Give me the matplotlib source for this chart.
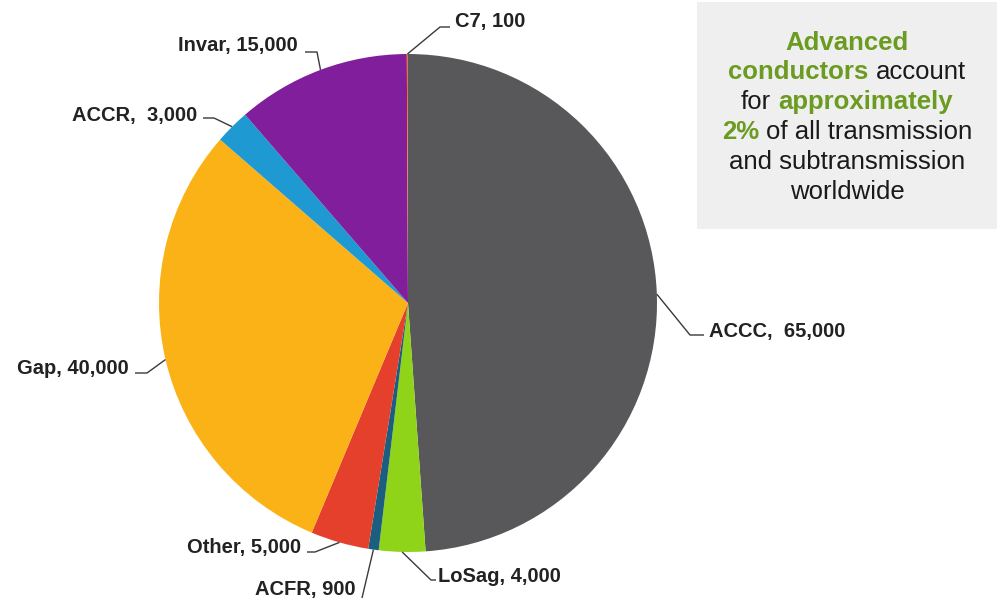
import matplotlib
matplotlib.use('Agg')
import matplotlib.pyplot as plt
import numpy as np
from matplotlib.patches import Rectangle

# ---- data ----
categories = ['ACCC', 'LoSag', 'ACFR', 'Other', 'Gap', 'ACCR', 'Invar', 'C7']
values = [65000, 4000, 900, 5000, 40000, 3000, 15000, 100]
label_sep = {'ACCC': ',  ', 'ACCR': ',  '}
colors = ['#58585A', '#8FD418', '#1B5E80', '#E5402B', '#FBB217', '#1E99D2', '#801E9C', '#F07030']

H = 608
W = 999
FONT = 'Liberation Sans'

fig = plt.figure(figsize=(W / 100, H / 100), dpi=100)
ax = fig.add_axes([0, 0, 1, 1])
cx, cy, r = 408, H - 303, 249
wedges, _ = ax.pie(values, colors=colors, startangle=90, counterclock=False,
                   center=(cx, cy), radius=r, wedgeprops=dict(linewidth=0))
ax.set_xlim(0, W)
ax.set_ylim(0, H)
ax.set_aspect('auto')
ax.axis('off')

# leader layout (pixel coords, y down): elbow, end, text anchor, ha
layout = {
    'ACCC': ((690, 335), (704, 335), (709, 331), 'left'),
    'LoSag': ((431, 580), (436, 580), (438, 577), 'left'),
    'ACFR': ((362, 598), (362, 598), (356, 590), 'right'),
    'Other': ((315, 552), (307, 552), (301, 547), 'right'),
    'Gap': ((147, 373), (135, 373), (129, 369), 'right'),
    'ACCR': ((214, 118), (203, 118), (197, 115), 'right'),
    'Invar': ((317, 52), (305, 52), (298, 46), 'right'),
    'C7': ((440, 27), (450, 27), (455, 21), 'left'),
}

line_col = '#3a3a3a'
for w, cat, val in zip(wedges, categories, values):
    th = np.deg2rad((w.theta1 + w.theta2) / 2)
    ex, ey = cx + r * np.cos(th), cy + r * np.sin(th)
    (elx, ely), (enx, eny), (tx, ty), ha = layout[cat]
    ax.plot([ex, elx, enx], [ey, H - ely, H - eny], color=line_col, lw=1.0,
            solid_capstyle='butt')
    sep = label_sep.get(cat, ', ')
    ax.text(tx, H - ty, f"{cat}{sep}{val:,}", ha=ha, va='center',
            fontsize=14.5, fontweight='bold', family=FONT, color='#222222')

# ---- annotation box ----
ax.add_patch(Rectangle((697, H - 229), 300, 227, facecolor='#EFEFEF',
                       edgecolor='none', zorder=0))
green = '#6B9B20'
black = '#1a1a1a'
box_lines = [
    [('Advanced', True)],
    [('conductors', True), ('account', False)],
    [('for', False), ('approximately', True)],
    [('2%', True), ('of all transmission', False)],
    [('and subtransmission', False)],
    [('worldwide', False)],
]
line_y = [43, 72, 102, 132, 162, 192]
box_cx = 847
fs = 18.5
renderer = fig.canvas.get_renderer()


def measure(s, bold):
    t = ax.text(0, 0, s, fontsize=fs, family=FONT,
                fontweight='bold' if bold else 'normal')
    wdt = t.get_window_extent(renderer).width
    t.remove()
    return wdt


space_w = measure('a a', False) - measure('aa', False)

for pieces, y in zip(box_lines, line_y):
    widths = [measure(s, b) for s, b in pieces]
    total = sum(widths) + space_w * (len(pieces) - 1)
    x = box_cx - total / 2
    for (s, b), wd in zip(pieces, widths):
        ax.text(x, H - y, s, fontsize=fs, family=FONT, ha='left', va='center',
                fontweight='bold' if b else 'normal',
                color=green if b else black)
        x += wd + space_w

fig.savefig('out.png', dpi=100)
